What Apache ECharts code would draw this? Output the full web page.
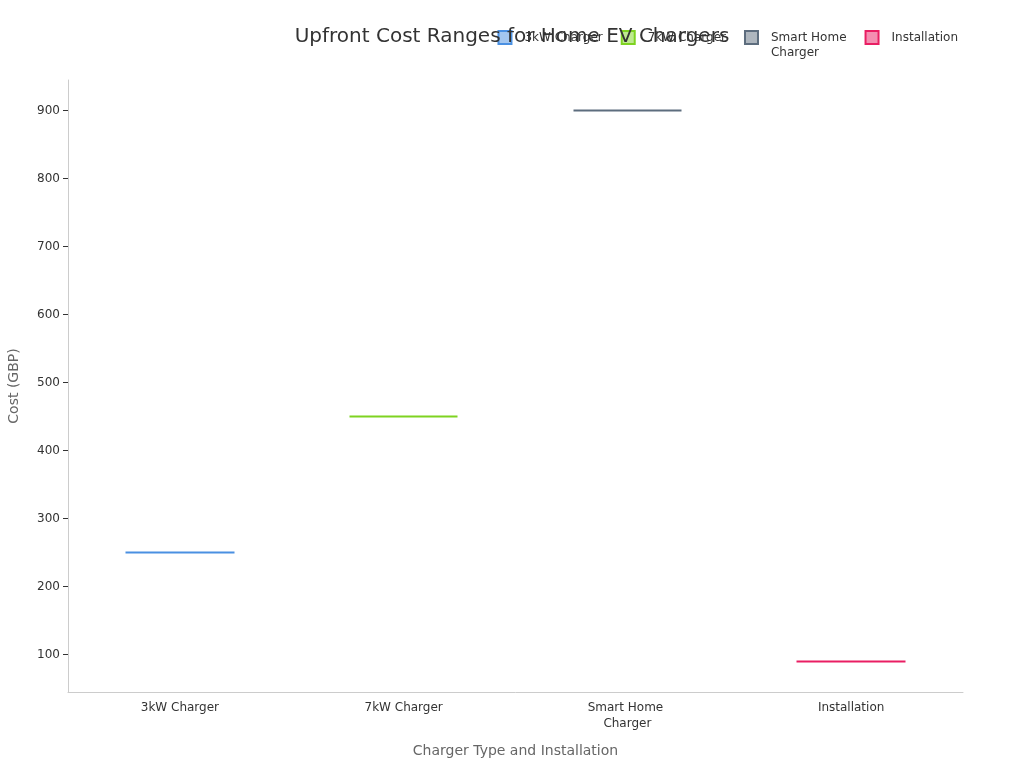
<!DOCTYPE html>
<html>
<head>
<meta charset="utf-8">
<script src="https://cdn.jsdelivr.net/npm/echarts@6/dist/echarts.min.js"></script>
<style>
  html, body { margin: 0; padding: 0; background: #fff; }
  #main { width: 1024px; height: 768px; }
</style>
</head>
<body>
<div id="main"></div>
<script>
// 数据
const categories = ['3kW Charger', '7kW Charger', 'Smart Home Charger', 'Installation']
const lowCost = [250, 450, 900, 90]
const highCost = [250, 450, 900, 90]
const yTicks = [100, 200, 300, 400, 500, 600, 700, 800, 900]
const colors = ['#4a90e2', '#7ed321', '#5d6d7e', '#e91e63']
const fills = ['rgba(74,144,226,0.5)', 'rgba(126,211,33,0.5)', 'rgba(93,109,126,0.5)', 'rgba(233,30,99,0.5)']

function chart() {
    const myChart = echarts.init(document.getElementById('main'))
    const series = categories.map(function (name, i) {
        return {
            name: name,
            type: 'candlestick',
            barWidth: 109,
            barMaxWidth: 300,
            itemStyle: {
                color: colors[i],
                color0: colors[i],
                borderColor: colors[i],
                borderColor0: colors[i],
                borderWidth: 2
            },
            // 只在自己的类目上有值
            data: categories.map(function (c, j) {
                return j === i ? [lowCost[i], highCost[i], lowCost[i], highCost[i]] : ['-', '-', '-', '-']
            })
        }
    })
    const option = {
        animation: false,
        textStyle: { fontFamily: 'DejaVu Sans' },
        title: {
            text: 'Upfront Cost Ranges for Home EV Chargers',
            left: 'center',
            top: 22,
            textStyle: {
                fontFamily: 'DejaVu Sans',
                fontSize: 20,
                fontWeight: 'normal',
                color: '#333'
            }
        },
        legend: {
            top: 10,
            right: 61,
            icon: 'rect',
            itemWidth: 13,
            itemHeight: 13,
            itemGap: 18,
            // 长名称换行，首行与图标对齐
            formatter: function (name) {
                return name === 'Smart Home Charger' ? ' \nSmart Home\nCharger' : name
            },
            textStyle: {
                fontFamily: 'DejaVu Sans',
                fontSize: 12,
                color: '#333',
                lineHeight: 15,
                padding: [0, 0, 0, 8]
            },
            data: categories.map(function (name, i) {
                return {
                    name: name,
                    itemStyle: { color: fills[i], borderColor: colors[i], borderWidth: 2 }
                }
            })
        },
        grid: {
            left: 68,
            right: 61,
            top: 80,
            bottom: 76,
            outerBoundsMode: 'none'
        },
        xAxis: {
            type: 'category',
            data: categories,
            name: 'Charger Type and Installation',
            nameLocation: 'middle',
            nameGap: 52,
            nameTextStyle: { fontSize: 14, color: '#666' },
            axisLine: { lineStyle: { color: '#ccc' } },
            axisTick: { alignWithLabel: true, lineStyle: { color: '#999' } },
            axisLabel: {
                color: '#333',
                fontSize: 12,
                interval: 0,
                width: 100,
                lineHeight: 16,
                overflow: 'break'
            }
        },
        yAxis: {
            type: 'value',
            min: 45,
            max: 945,
            name: 'Cost (GBP)',
            nameLocation: 'middle',
            nameGap: 47,
            nameTextStyle: { fontSize: 14, color: '#666' },
            axisLine: { show: true, lineStyle: { color: '#ccc' } },
            axisTick: { show: true, length: 5, customValues: yTicks, lineStyle: { color: '#333' } },
            axisLabel: { color: '#333', fontSize: 12, margin: 8, customValues: yTicks },
            splitLine: { show: false }
        },
        series: series
    }
    myChart.setOption(option)
}
chart()
</script>
</body>
</html>
